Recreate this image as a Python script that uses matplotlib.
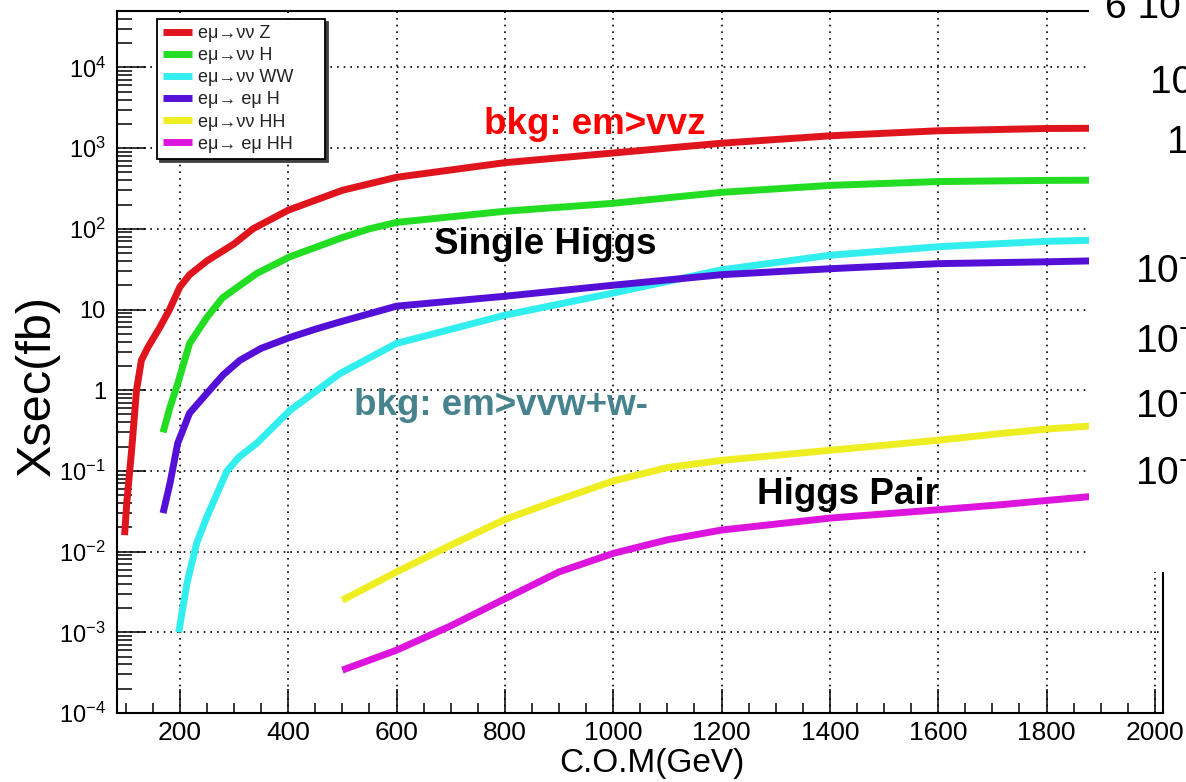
import math
import matplotlib
matplotlib.use("Agg")
import matplotlib.pyplot as plt
from matplotlib import font_manager
from matplotlib.patches import Rectangle
from matplotlib.ticker import LogLocator, MultipleLocator, FuncFormatter, NullFormatter

names = {f.name for f in font_manager.fontManager.ttflist}
BASE = "Liberation Sans" if "Liberation Sans" in names else "DejaVu Sans"

plt.rcParams["font.family"] = [BASE, "DejaVu Sans"]
plt.rcParams["mathtext.fontset"] = "custom"
plt.rcParams["mathtext.rm"] = BASE
plt.rcParams["mathtext.it"] = BASE
plt.rcParams["mathtext.default"] = "regular"

# ---- cross sections (fb) vs centre-of-mass energy (GeV) ----
vvz_x = [98, 102, 111, 120, 129, 141, 163, 181, 200, 218, 250, 300, 335, 400,
         500, 600, 800, 1000, 1200, 1400, 1600, 1800, 1880]
vvz_y = [0.016, 0.04, 0.18, 1.0, 2.35, 3.4, 6.0, 10, 19, 27, 40, 65, 100, 170,
         300, 435, 660, 870, 1150, 1420, 1640, 1750, 1760]

vvh_x = [169, 182, 196, 218, 250, 279, 342, 403, 500, 550, 600, 800, 1000,
         1200, 1400, 1600, 1800, 1880]
vvh_y = [0.30, 0.62, 1.2, 3.8, 8, 14, 28, 45, 78, 100, 120, 165, 207,
         283, 345, 385, 398, 400]

vvww_x = [198, 213, 231, 250, 287, 310, 342, 403, 495, 600, 800, 1000, 1200,
          1400, 1600, 1800, 1880]
vvww_y = [0.001, 0.004, 0.0127, 0.027, 0.1, 0.15, 0.22, 0.56, 1.6, 3.8, 8.5, 16,
          31, 47, 60, 70, 72]

eeh_x = [169, 182, 196, 218, 255, 280, 311, 350, 403, 450, 495, 600, 800, 1000,
         1200, 1400, 1600, 1800, 1880]
eeh_y = [0.030, 0.071, 0.22, 0.52, 1.0, 1.55, 2.35, 3.3, 4.5, 5.7, 7.0, 11, 14.6,
         20, 27, 32, 37, 39, 40]

vvhh_x = [500, 600, 700, 800, 900, 1000, 1100, 1200, 1400, 1600, 1714, 1800, 1880]
vvhh_y = [0.0025, 0.0056, 0.012, 0.025, 0.044, 0.075, 0.11, 0.135, 0.18, 0.24,
          0.29, 0.33, 0.36]

eehh_x = [500, 600, 700, 800, 900, 1000, 1100, 1200, 1400, 1600, 1714, 1800, 1880]
eehh_y = [3.4e-4, 6e-4, 1.2e-3, 2.6e-3, 5.6e-3, 9.5e-3, 0.014, 0.0185, 0.026,
          0.033, 0.038, 0.043, 0.048]

labels = ["eμ→νν Z", "eμ→νν H", "eμ→νν WW", "eμ→ eμ H", "eμ→νν HH", "eμ→ eμ HH"]
colors = ["#E0141C", "#22DD22", "#33EEEE", "#5510D8", "#EEEE22", "#DD14DD"]

series = [(vvz_x, vvz_y), (vvh_x, vvh_y), (vvww_x, vvww_y),
          (eeh_x, eeh_y), (vvhh_x, vvhh_y), (eehh_x, eehh_y)]

fig = plt.figure(figsize=(11.86, 7.82), dpi=100)
W, H = 1186, 782
ax = fig.add_axes([117 / W, (H - 713) / H, (1163 - 117) / W, (713 - 11) / H])

for (xs, ys), lab, col in zip(series, labels, colors):
    ax.plot(xs, ys, color=col, lw=5, label=lab, solid_capstyle="butt",
            solid_joinstyle="round", zorder=3)

ax.set_yscale("log")
ax.set_xlim(84, 2015)
ax.set_ylim(1e-4, 5e4)

ax.xaxis.set_major_locator(MultipleLocator(200))
ax.xaxis.set_minor_locator(MultipleLocator(50))
ax.yaxis.set_major_locator(LogLocator(base=10, numticks=20))
ax.yaxis.set_minor_locator(LogLocator(base=10, subs=range(2, 10), numticks=100))
ax.yaxis.set_minor_formatter(NullFormatter())


def ylab(v, pos):
    e = int(round(math.log10(v)))
    if e == 0:
        return "1"
    if e == 1:
        return "10"
    return "$10^{%d}$" % e


ax.yaxis.set_major_formatter(FuncFormatter(ylab))

ax.tick_params(axis="both", which="both", direction="in", top=False, right=False,
               width=1.1, colors="black")
ax.tick_params(axis="x", which="major", length=17, pad=6, labelsize=19)
ax.tick_params(axis="x", which="minor", length=7)
ax.tick_params(axis="y", which="major", length=21, pad=8, labelsize=17)
ax.tick_params(axis="y", which="minor", length=11)

ax.grid(True, which="major", color="black", linestyle=(0, (1, 3)), lw=1.2)
for s in ax.spines.values():
    s.set_linewidth(1.5)

ax.set_xlabel("C.O.M(GeV)", fontsize=24)
ax.xaxis.set_label_coords((652 - 117) / 1046, -(748 - 713) / 702)
ax.set_ylabel("Xsec(fb)", fontsize=35)
ax.yaxis.set_label_coords((60 - 117) / 1046, (713 - 386) / 702)

leg = ax.legend(loc="upper left", bbox_to_anchor=(0.038, 0.788, 0.161, 0.2006),
                mode="expand", fontsize=13, frameon=True, fancybox=False,
                edgecolor="black", handlelength=1.6, handletextpad=0.33,
                borderpad=0.35, labelspacing=0.28, borderaxespad=0,
                shadow={"color": "0.25", "alpha": 1, "ox": 2, "oy": -2})
leg.get_frame().set_linewidth(1.3)
for t in leg.get_texts():
    t.set_color("#222222")
leg.set_zorder(6)

bold = dict(fontsize=26.5, fontweight="bold", ha="center", va="center", zorder=5)
ax.text(966, 1950, "bkg: em>vvz", color="#FF0000", **bold)
ax.text(874, 63, "Single Higgs", color="black", **bold)
ax.text(793, 0.65, "bkg: em>vvw+w-", color="#47838F", **bold)
ax.text(1433, 0.051, "Higgs Pair", color="black", **bold)

# white panel with fragments of a neighbouring axis in the upper right corner
fig.add_artist(Rectangle((1089 / W, (H - 572) / H), 1 - 1089 / W, 572 / H,
                         transform=fig.transFigure, facecolor="white",
                         edgecolor="none", zorder=10))
side = dict(fontsize=28, color="black", ha="left", va="center", zorder=11)
fig.text(1105 / W, 1 - 8 / H, "6 10", **side)
fig.text(1150 / W, 1 - 83 / H, "10", **side)
fig.text(1167 / W, 1 - 143 / H, "1", **side)
for yc in (272, 342, 407, 474):
    fig.text(1135 / W, 1 - yc / H, "10$^{-}$", **side)

fig.savefig("out.png", dpi=100)
